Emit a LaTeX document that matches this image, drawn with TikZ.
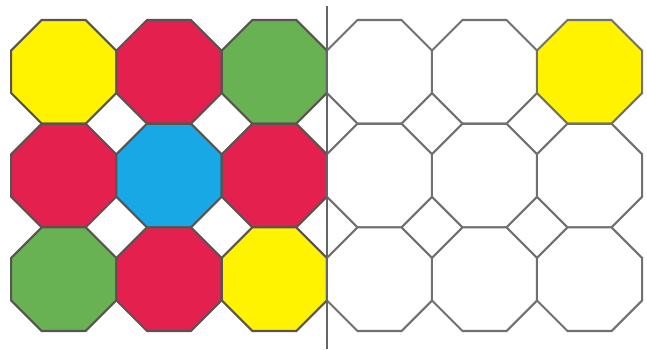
\documentclass[tikz,border=0pt]{standalone}
\definecolor{oyel}{RGB}{255,243,0}
\definecolor{ored}{RGB}{228,32,78}
\definecolor{ogrn}{RGB}{104,178,84}
\definecolor{oblu}{RGB}{24,168,230}
\definecolor{edgeL}{RGB}{88,84,80}
\definecolor{edgeR}{RGB}{112,112,112}
\definecolor{divider}{RGB}{100,100,108}
\tikzset{
  pics/octagon/.style 2 args={code={
    \filldraw[draw=#2,line width=2.1pt,line join=miter,fill=#1]
      (-52.6,-21.2) -- (-22,-51.8) -- (22,-51.8) -- (52.6,-21.2) --
      (52.6,21.2) -- (22,51.8) -- (-22,51.8) -- (-52.6,21.2) -- cycle;
  }},
  dividerline/.style={draw=divider,line width=2.6pt}
}
\begin{document}
\begin{tikzpicture}[x=1pt,y=-1pt]
\useasboundingbox[fill=white] (0,0) rectangle (647,349);
% left panel
\foreach \cx/\cy/\col in {
  63.7/71.8/oyel, 169/71.8/ored, 274.3/71.8/ogrn,
  63.7/175.5/ored, 169/175.5/oblu, 274.3/175.5/ored,
  63.7/279.2/ogrn, 169/279.2/ored, 274.3/279.2/oyel}
  \pic at (\cx,\cy) {octagon={\col}{edgeL}};
% right panel
\foreach \cx/\cy/\col in {
  379.5/71.8/white, 484.5/71.8/white, 589.5/71.8/oyel,
  379.5/175.5/white, 484.5/175.5/white, 589.5/175.5/white,
  379.5/279.2/white, 484.5/279.2/white, 589.5/279.2/white}
  \pic at (\cx,\cy) {octagon={\col}{edgeR}};
% divider
\coordinate (dtop) at (327,6);
\coordinate (dbot) at (327,349);
\draw[dividerline] (dtop) -- (dbot);
\end{tikzpicture}
\end{document}
